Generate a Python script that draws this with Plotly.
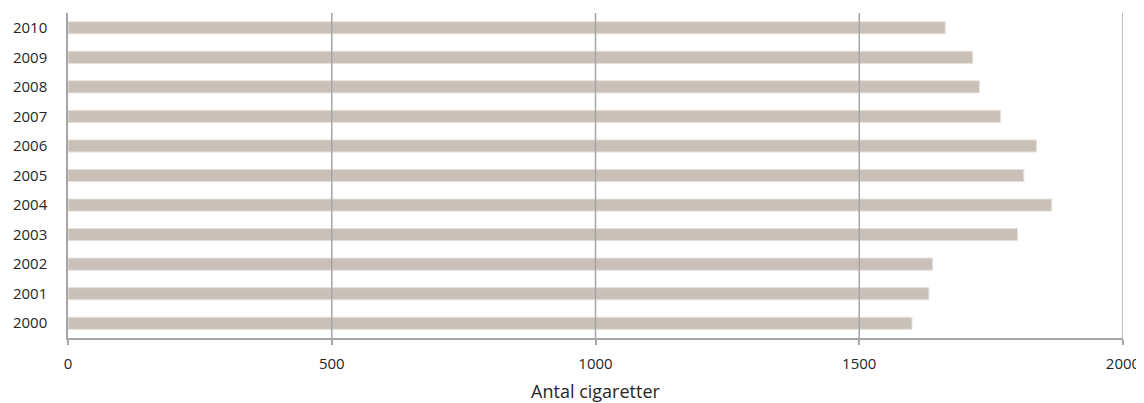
import plotly.graph_objects as go

years = ["2000", "2001", "2002", "2003", "2004", "2005", "2006", "2007", "2008", "2009", "2010"]
values = [1600, 1632, 1639, 1800, 1865, 1812, 1836, 1768, 1728, 1715, 1663]
x_ticks = [0, 500, 1000, 1500, 2000]
x_title = "Antal cigaretter"

font_family = "Open Sans, Liberation Sans, sans-serif"
text_color = "#262626"
grid_color = "#A6A6A6"

fig = go.Figure(
    go.Bar(
        x=values,
        y=years,
        orientation="h",
        marker=dict(color="#C9C0B7", line=dict(color="#E6E1DC", width=1)),
        hoverinfo="x+y",
    )
)

# gridlines drawn above bars (as in the reference)
for t in x_ticks[1:]:
    fig.add_shape(type="line", xref="x", yref="paper", x0=t, x1=t, y0=0, y1=1,
                  line=dict(color=grid_color, width=1.5), layer="above")

# the page body has an 8px margin, so the figure is sized to fit the window
fig.update_layout(
    width=1136,
    height=395,
    margin=dict(l=60, r=21, t=5, b=65),
    paper_bgcolor="white",
    plot_bgcolor="white",
    bargap=0.59,
    showlegend=False,
    font=dict(family=font_family, color=text_color, size=15),
    xaxis=dict(
        range=[0, 2000],
        tickvals=x_ticks,
        ticktext=[str(t) for t in x_ticks],
        showgrid=False,
        zeroline=False,
        showline=True,
        linecolor=grid_color,
        linewidth=1.5,
        ticks="outside",
        ticklen=5,
        tickcolor=grid_color,
        tickwidth=1.5,
        tickfont=dict(size=15, color=text_color),
        ticklabelstandoff=6,
        automargin=False,
        title=dict(text=x_title, font=dict(size=18, color=text_color), standoff=18),
    ),
    yaxis=dict(
        type="category",
        categoryorder="array",
        categoryarray=years,
        range=[-0.5, 10.5],
        showgrid=False,
        zeroline=False,
        showline=True,
        linecolor=grid_color,
        linewidth=1.5,
        ticks="",
        tickfont=dict(size=15, color=text_color),
        ticklabelstandoff=16,
        automargin=False,
    ),
)

fig.write_html("out.html")
